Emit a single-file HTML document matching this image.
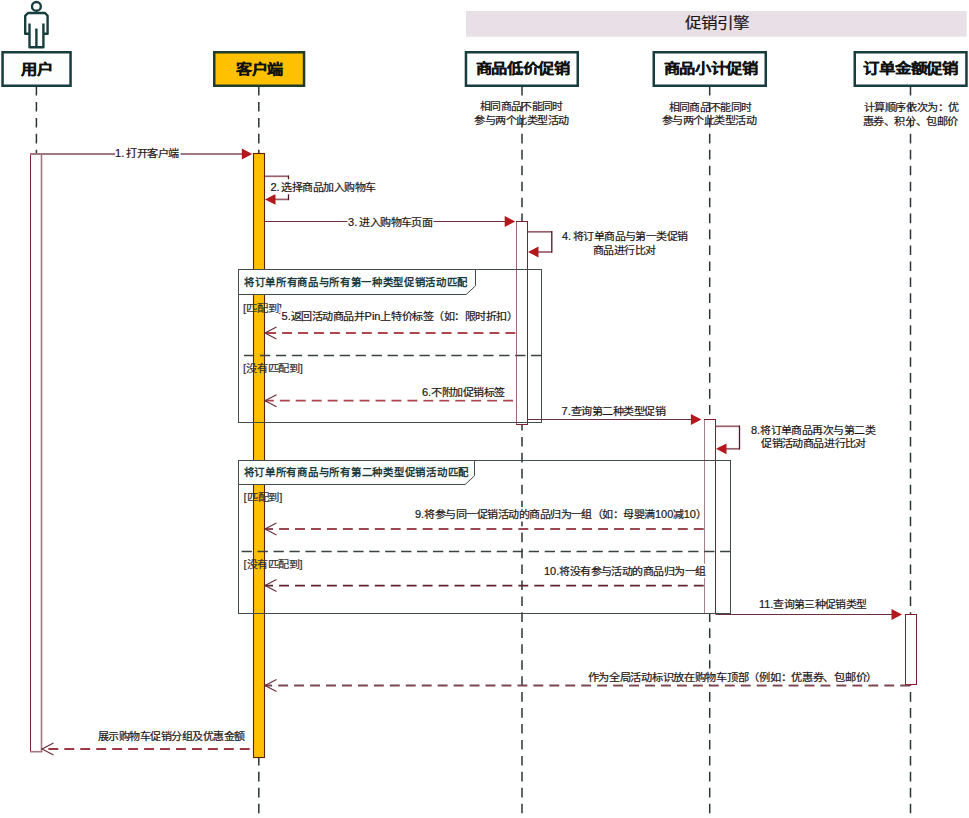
<!DOCTYPE html>
<html lang="zh-CN"><head><meta charset="utf-8"><title>促销引擎时序图</title>
<style>
html,body{margin:0;padding:0;background:#fff;}
body{width:969px;height:818px;overflow:hidden;}
svg{display:block;font-family:"Liberation Sans",sans-serif;}
</style></head><body>
<svg width="969" height="818" viewBox="0 0 969 818">
<rect x="466" y="11" width="500.6" height="25.7" fill="#e8dfe7"/>
<text x="684.50" y="28.47" font-size="14.5" font-weight="normal" fill="#1e1616" textLength="64.00" lengthAdjust="spacingAndGlyphs" stroke="#1e1616" stroke-width="0.2">促销引擎</text>
<line x1="36.4" y1="86" x2="36.4" y2="154" stroke="#2a3535" stroke-width="1.5" stroke-dasharray="9.6 6.35"/>
<line x1="258.8" y1="86" x2="258.8" y2="818" stroke="#2a3535" stroke-width="1.5" stroke-dasharray="9.6 6.35"/>
<line x1="522" y1="86" x2="522" y2="818" stroke="#2a3535" stroke-width="1.5" stroke-dasharray="9.6 6.35"/>
<line x1="709.7" y1="86" x2="709.7" y2="818" stroke="#2a3535" stroke-width="1.5" stroke-dasharray="9.6 6.35"/>
<line x1="910.5" y1="86" x2="910.5" y2="818" stroke="#2a3535" stroke-width="1.5" stroke-dasharray="9.6 6.35"/>
<rect x="2.55" y="52.25" width="68.0" height="33.5" fill="#fcfefe" stroke="#173d3e" stroke-width="2.5"/>
<rect x="214.25" y="52.25" width="89.80000000000001" height="33.5" fill="#ffc000" stroke="#1f3d2c" stroke-width="2.5"/>
<rect x="465.95" y="52.25" width="111.80000000000001" height="33.5" fill="#fcfefe" stroke="#173d3e" stroke-width="2.5"/>
<rect x="653.75" y="52.25" width="112.0" height="33.5" fill="#fcfefe" stroke="#173d3e" stroke-width="2.5"/>
<rect x="854.75" y="52.25" width="111.70000000000005" height="33.5" fill="#fcfefe" stroke="#173d3e" stroke-width="2.5"/>
<text x="21.00" y="73.86" font-size="13.5" font-weight="bold" fill="#111" textLength="31.50" lengthAdjust="spacingAndGlyphs" stroke="#111" stroke-width="0.18">用户</text>
<text x="236.00" y="73.86" font-size="13.5" font-weight="bold" fill="#111" textLength="46.50" lengthAdjust="spacingAndGlyphs" stroke="#111" stroke-width="0.18">客户端</text>
<text x="475.50" y="72.86" font-size="13.5" font-weight="bold" fill="#111" textLength="94.00" lengthAdjust="spacingAndGlyphs" stroke="#111" stroke-width="0.18">商品低价促销</text>
<text x="663.50" y="72.61" font-size="13.5" font-weight="bold" fill="#111" textLength="94.00" lengthAdjust="spacingAndGlyphs" stroke="#111" stroke-width="0.18">商品小计促销</text>
<text x="863.00" y="73.11" font-size="13.5" font-weight="bold" fill="#111" textLength="95.00" lengthAdjust="spacingAndGlyphs" stroke="#111" stroke-width="0.18">订单金额促销</text>
<text x="480.00" y="110.28" font-size="10.5" font-weight="normal" fill="#1e1616" textLength="82.50" lengthAdjust="spacingAndGlyphs" stroke="#1e1616" stroke-width="0.2">相同商品不能同时</text>
<text x="474.00" y="123.78" font-size="10.5" font-weight="normal" fill="#1e1616" textLength="95.00" lengthAdjust="spacingAndGlyphs" stroke="#1e1616" stroke-width="0.2">参与两个此类型活动</text>
<text x="668.50" y="110.78" font-size="10.5" font-weight="normal" fill="#1e1616" textLength="83.00" lengthAdjust="spacingAndGlyphs" stroke="#1e1616" stroke-width="0.2">相同商品不能同时</text>
<text x="661.50" y="124.28" font-size="10.5" font-weight="normal" fill="#1e1616" textLength="95.00" lengthAdjust="spacingAndGlyphs" stroke="#1e1616" stroke-width="0.2">参与两个此类型活动</text>
<text x="863.50" y="110.53" font-size="10.5" font-weight="normal" fill="#1e1616" textLength="95.50" lengthAdjust="spacingAndGlyphs" stroke="#1e1616" stroke-width="0.2">计算顺序依次为：优</text>
<text x="862.50" y="124.78" font-size="10.5" font-weight="normal" fill="#1e1616" textLength="95.50" lengthAdjust="spacingAndGlyphs" stroke="#1e1616" stroke-width="0.2">惠券、积分、包邮价</text>
<g fill="none" stroke="#173d3e" stroke-width="2.4" stroke-linejoin="round"><circle cx="36.4" cy="6.4" r="4.4"/><path d="M29.5,33.8 H25.2 V15.8 L28,13 H45 L47.6,15.8 V33.8 H43.4"/><path d="M29.5,23.5 V47.3 H43.4 V23.5"/><path d="M36.4,28.5 V47.3"/></g>
<rect x="30.5" y="154.5" width="11.0" height="597.0" fill="#fff" stroke="#7e2030" stroke-width="1"/>
<line x1="41.5" y1="154" x2="41.5" y2="752" stroke="#a07880" stroke-width="1.6"/>
<line x1="30" y1="751.7" x2="42.3" y2="751.7" stroke="#a07880" stroke-width="1.6"/>
<rect x="253.5" y="153.5" width="11.0" height="604.0" fill="#ffc000" stroke="#5a2200" stroke-width="1.1"/>
<rect x="516.5" y="221.5" width="11.0" height="203.0" fill="#fff" stroke="#7e2030" stroke-width="1"/>
<line x1="516.5" y1="222" x2="516.5" y2="424" stroke="#9a6a74" stroke-width="1"/>
<rect x="704.5" y="419.5" width="11.0" height="194.0" fill="#fff" stroke="#7e2030" stroke-width="1"/>
<line x1="704.5" y1="420" x2="704.5" y2="613" stroke="#a88088" stroke-width="1"/>
<rect x="905.5" y="614.5" width="11.0" height="70.0" fill="#fff" stroke="#7e2030" stroke-width="1"/>
<rect x="238.5" y="269.5" width="303.0" height="153.0" fill="none" stroke="#424c4c" stroke-width="1"/>
<path d="M238.5,269.5 H475.5 V285.8 L466.2,294.5 H238.5 Z" fill="#fcfdfd" stroke="#424c4c" stroke-width="1"/>
<line x1="238.5" y1="355.5" x2="541.5" y2="355.5" stroke="#3a4242" stroke-width="1.3" stroke-dasharray="10.3 5.65" stroke-dashoffset="10.45"/>
<rect x="238.5" y="460.5" width="492.0" height="153.0" fill="none" stroke="#424c4c" stroke-width="1"/>
<path d="M238.5,460.5 H474.5 V475.8 L465.2,484.5 H238.5 Z" fill="#fcfdfd" stroke="#424c4c" stroke-width="1"/>
<line x1="238.5" y1="551.5" x2="730.5" y2="551.5" stroke="#3a4242" stroke-width="1.3" stroke-dasharray="10.3 5.65" stroke-dashoffset="12.85"/>
<text x="244.00" y="285.60" font-size="10.7" font-weight="bold" fill="#1c3d3d" textLength="224.00" lengthAdjust="spacingAndGlyphs">将订单所有商品与所有第一种类型促销活动匹配</text>
<text x="243.50" y="476.10" font-size="10.7" font-weight="bold" fill="#1c3d3d" textLength="225.50" lengthAdjust="spacingAndGlyphs">将订单所有商品与所有第二种类型促销活动匹配</text>
<text x="243.00" y="312.03" font-size="10.5" font-weight="normal" fill="#333" textLength="39.00" lengthAdjust="spacingAndGlyphs" stroke="#333" stroke-width="0.2">[匹配到]</text>
<text x="243.00" y="371.78" font-size="10.5" font-weight="normal" fill="#333" textLength="60.00" lengthAdjust="spacingAndGlyphs" stroke="#333" stroke-width="0.2">[没有匹配到]</text>
<text x="243.50" y="501.03" font-size="10.5" font-weight="normal" fill="#333" textLength="39.00" lengthAdjust="spacingAndGlyphs" stroke="#333" stroke-width="0.2">[匹配到]</text>
<text x="243.50" y="568.03" font-size="10.5" font-weight="normal" fill="#333" textLength="59.00" lengthAdjust="spacingAndGlyphs" stroke="#333" stroke-width="0.2">[没有匹配到]</text>
<line x1="30" y1="154" x2="243" y2="154" stroke="#a07880" stroke-width="2"/>
<path d="M252.3,154 L241.8,148.6 L241.8,159.4 Z" fill="#b3191c"/>
<rect x="115.1" y="144.9" width="65.4" height="15.4" fill="#fff"/>
<text x="115.00" y="156.78" font-size="10.5" font-weight="normal" fill="#1e1616" textLength="64.00" lengthAdjust="spacingAndGlyphs" stroke="#1e1616" stroke-width="0.2">1. 打开客户端</text>
<path d="M265,176.3 H288.5" fill="none" stroke="#98606a" stroke-width="1.7"/>
<path d="M275,199.4 H288.5" fill="none" stroke="#98606a" stroke-width="1.7"/>
<path d="M288.5,175.5 V200.20000000000002" fill="none" stroke="#4a1a24" stroke-width="1.3"/>
<path d="M265,199.4 L275.5,194.0 L275.5,204.8 Z" fill="#b3191c"/>
<rect x="269.4" y="179.3" width="107.0" height="15.0" fill="#fff"/>
<text x="270.50" y="190.78" font-size="10.5" font-weight="normal" fill="#1e1616" textLength="105.00" lengthAdjust="spacingAndGlyphs" stroke="#1e1616" stroke-width="0.2">2. 选择商品加入购物车</text>
<line x1="264.5" y1="221.5" x2="505" y2="221.5" stroke="#6a3040" stroke-width="1.1"/>
<path d="M515.2,221.5 L504.70000000000005,216.1 L504.70000000000005,226.9 Z" fill="#b3191c"/>
<rect x="347.3" y="213.3" width="86.1" height="15.3" fill="#fff"/>
<text x="348.00" y="225.53" font-size="10.5" font-weight="normal" fill="#1e1616" textLength="84.50" lengthAdjust="spacingAndGlyphs" stroke="#1e1616" stroke-width="0.2">3. 进入购物车页面</text>
<path d="M528,231.8 H551.8" fill="none" stroke="#98606a" stroke-width="1.7"/>
<path d="M538,252 H551.8" fill="none" stroke="#98606a" stroke-width="1.7"/>
<path d="M551.8,231.0 V252.8" fill="none" stroke="#4a1a24" stroke-width="1.3"/>
<path d="M528,252 L538.5,246.6 L538.5,257.4 Z" fill="#b3191c"/>
<rect x="560.7" y="228.1" width="127.3" height="15.4" fill="#fff"/>
<text x="562.00" y="239.78" font-size="10.5" font-weight="normal" fill="#1e1616" textLength="125.50" lengthAdjust="spacingAndGlyphs" stroke="#1e1616" stroke-width="0.2">4. 将订单商品与第一类促销</text>
<rect x="592.5" y="241.8" width="64.1" height="15.4" fill="#fff"/>
<text x="593.00" y="254.28" font-size="10.5" font-weight="normal" fill="#1e1616" textLength="62.50" lengthAdjust="spacingAndGlyphs" stroke="#1e1616" stroke-width="0.2">商品进行比对</text>
<line x1="265" y1="333" x2="516.5" y2="333" stroke="#b0454d" stroke-width="1.8" stroke-dasharray="9.9 6.05" stroke-dashoffset="14.80"/>
<path d="M276.5,327 L265,333 L276.5,339" fill="none" stroke="#6a2a35" stroke-width="1.1"/>
<rect x="280.2" y="307.7" width="230.6" height="15.3" fill="#fff"/>
<text x="281.50" y="319.53" font-size="10.5" font-weight="normal" fill="#1e1616" textLength="236.00" lengthAdjust="spacingAndGlyphs" stroke="#1e1616" stroke-width="0.2">5.返回活动商品并Pin上特价标签（如：限时折扣）</text>
<line x1="265" y1="400.7" x2="516.5" y2="400.7" stroke="#ad454c" stroke-width="1.8" stroke-dasharray="9.9 6.05" stroke-dashoffset="1.10"/>
<path d="M276.5,394.7 L265,400.7 L276.5,406.7" fill="none" stroke="#6a2a35" stroke-width="1.1"/>
<rect x="420.7" y="384.0" width="84.1" height="15.4" fill="#fff"/>
<text x="422.00" y="396.28" font-size="10.5" font-weight="normal" fill="#1e1616" textLength="82.50" lengthAdjust="spacingAndGlyphs" stroke="#1e1616" stroke-width="0.2">6.不附加促销标签</text>
<line x1="527.5" y1="419.5" x2="691.5" y2="419.5" stroke="#6a3040" stroke-width="1.1"/>
<path d="M701.4,419.5 L690.9,414.1 L690.9,424.9 Z" fill="#b3191c"/>
<rect x="560.2" y="402.8" width="106.2" height="15.7" fill="#fff"/>
<text x="561.50" y="415.03" font-size="10.5" font-weight="normal" fill="#1e1616" textLength="104.00" lengthAdjust="spacingAndGlyphs" stroke="#1e1616" stroke-width="0.2">7.查询第二种类型促销</text>
<path d="M716,426.3 H739.5" fill="none" stroke="#98606a" stroke-width="1.7"/>
<path d="M726,448.8 H739.5" fill="none" stroke="#98606a" stroke-width="1.7"/>
<path d="M739.5,425.5 V449.6" fill="none" stroke="#4a1a24" stroke-width="1.3"/>
<path d="M716,448.8 L726.5,443.40000000000003 L726.5,454.2 Z" fill="#b3191c"/>
<rect x="750.3" y="422.4" width="126.0" height="15.4" fill="#fff"/>
<text x="751.00" y="434.28" font-size="10.5" font-weight="normal" fill="#1e1616" textLength="124.00" lengthAdjust="spacingAndGlyphs" stroke="#1e1616" stroke-width="0.2">8.将订单商品再次与第二类</text>
<rect x="759.7" y="435.4" width="107.6" height="15.8" fill="#fff"/>
<text x="761.00" y="447.28" font-size="10.5" font-weight="normal" fill="#1e1616" textLength="105.00" lengthAdjust="spacingAndGlyphs" stroke="#1e1616" stroke-width="0.2">促销活动商品进行比对</text>
<line x1="265" y1="529" x2="704.5" y2="529" stroke="#984a50" stroke-width="1.8" stroke-dasharray="9.9 6.05" stroke-dashoffset="1.85"/>
<path d="M276.5,523 L265,529 L276.5,535" fill="none" stroke="#6a2a35" stroke-width="1.1"/>
<rect x="414.3" y="507.1" width="286.3" height="14.4" fill="#fff"/>
<text x="415.00" y="518.28" font-size="10.5" font-weight="normal" fill="#1e1616" textLength="291.50" lengthAdjust="spacingAndGlyphs" stroke="#1e1616" stroke-width="0.2">9.将参与同一促销活动的商品归为一组（如：母婴满100减10）</text>
<line x1="265" y1="585.6" x2="704.5" y2="585.6" stroke="#5e2430" stroke-width="1.8" stroke-dasharray="9.9 6.05" stroke-dashoffset="1.85"/>
<path d="M276.5,579.5 L265,585.5 L276.5,591.5" fill="none" stroke="#6a2a35" stroke-width="1.1"/>
<rect x="543.5" y="563.8" width="162.7" height="14.0" fill="#fff"/>
<text x="544.00" y="574.78" font-size="10.5" font-weight="normal" fill="#1e1616" textLength="161.50" lengthAdjust="spacingAndGlyphs" stroke="#1e1616" stroke-width="0.2">10.将没有参与活动的商品归为一组</text>
<line x1="715.5" y1="614.5" x2="892" y2="614.5" stroke="#6a3040" stroke-width="1.1"/>
<path d="M902,614.5 L891.5,609.1 L891.5,619.9 Z" fill="#b3191c"/>
<rect x="758.9" y="595.3" width="109.7" height="15.4" fill="#fff"/>
<text x="759.00" y="607.78" font-size="10.5" font-weight="normal" fill="#1e1616" textLength="107.50" lengthAdjust="spacingAndGlyphs" stroke="#1e1616" stroke-width="0.2">11.查询第三种促销类型</text>
<line x1="265" y1="685.5" x2="910.5" y2="685.5" stroke="#7a4550" stroke-width="1.8" stroke-dasharray="9.9 6.05" stroke-dashoffset="2.75"/>
<path d="M276.5,679.5 L265,685.5 L276.5,691.5" fill="none" stroke="#6a2a35" stroke-width="1.1"/>
<rect x="586.8" y="668.5" width="284.9" height="15.7" fill="#fff"/>
<text x="587.50" y="680.53" font-size="10.5" font-weight="normal" fill="#1e1616" textLength="289.50" lengthAdjust="spacingAndGlyphs" stroke="#1e1616" stroke-width="0.2">作为全局活动标识放在购物车顶部（例如：优惠券、包邮价）</text>
<line x1="42" y1="749" x2="253.5" y2="749" stroke="#9b3a42" stroke-width="1.8" stroke-dasharray="9.9 6.05" stroke-dashoffset="9.55"/>
<path d="M53.5,743 L42,749 L53.5,755" fill="none" stroke="#6a2a35" stroke-width="1.1"/>
<rect x="96.2" y="727.9" width="150.2" height="15.9" fill="#fff"/>
<text x="97.50" y="740.03" font-size="10.5" font-weight="normal" fill="#1e1616" textLength="147.00" lengthAdjust="spacingAndGlyphs" stroke="#1e1616" stroke-width="0.2">展示购物车促销分组及优惠金额</text>
</svg>
</body></html>
